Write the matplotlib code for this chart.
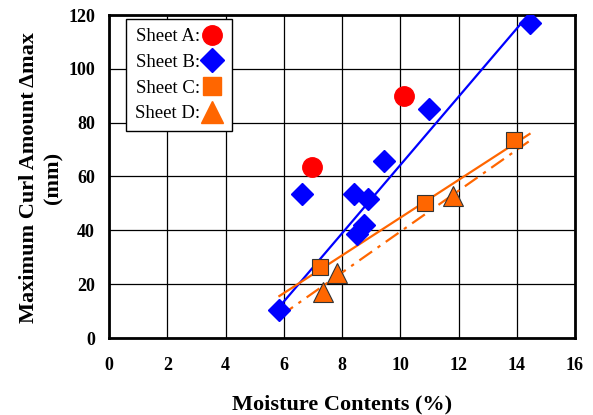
"""
Maximum curl amount vs moisture contents for four sheets
"""

import matplotlib.pyplot as plt
from matplotlib.lines import Line2D

plt.rcParams["font.family"] = ["Liberation Serif", "DejaVu Serif"]

# measured points
SHEET_A_X = [6.96, 10.14]
SHEET_A_Y = [63.7, 90.0]

SHEET_B_X = [5.82, 6.61, 8.40, 8.51, 8.77, 8.88, 9.45, 10.97, 14.44]
SHEET_B_Y = [10.4, 53.6, 53.4, 38.7, 42.0, 51.8, 65.9, 85.2, 117.2]

SHEET_C_X = [7.23, 10.86, 13.92]
SHEET_C_Y = [26.3, 50.1, 73.6]

SHEET_D_X = [7.36, 7.82, 11.80]
SHEET_D_Y = [17.2, 24.0, 52.6]

# trend lines (end points)
TREND_B_X = [5.85, 14.35]
TREND_B_Y = [11.6, 119.4]
TREND_C_X = [5.85, 14.44]
TREND_C_Y = [15.6, 75.8]
TREND_D_X = [5.88, 14.41]
TREND_D_Y = [8.2, 73.0]

X_TICKS = list(range(0, 17, 2))
Y_TICKS = list(range(0, 121, 20))

ORANGE = "#ff6600"
BLUE = "#0000ff"
RED = "#ff0000"

fig = plt.figure(figsize=(5.93, 4.15), dpi=100)
ax = fig.add_axes([109 / 593, 77 / 415, 466 / 593, 323 / 415])

# trend lines first
ax.plot(TREND_B_X, TREND_B_Y, color=BLUE, lw=1.6, zorder=3)
ax.plot(TREND_C_X, TREND_C_Y, color=ORANGE, lw=1.6, zorder=3)
ax.plot(TREND_D_X, TREND_D_Y, color=ORANGE, lw=1.6,
        ls=(0, (7, 3, 1.5, 3)), zorder=3)

# markers
ax.plot(SHEET_A_X, SHEET_A_Y, "o", color=RED, ms=14, mec=RED, zorder=4)
ax.plot(SHEET_B_X, SHEET_B_Y, "D", color=BLUE, ms=11, mec=BLUE, zorder=4)
ax.plot(SHEET_C_X, SHEET_C_Y, "s", color=ORANGE, ms=11, mec="#333333",
        mew=0.8, zorder=5)
ax.plot(SHEET_D_X, SHEET_D_Y, "^", color=ORANGE, ms=14, mec="#333333",
        mew=0.8, zorder=5)

ax.set_xlim(0, 16)
ax.set_ylim(0, 120)
ax.set_xticks(X_TICKS)
ax.set_yticks(Y_TICKS)
ax.grid(True, color="black", lw=0.9)
ax.set_axisbelow(True)
ax.tick_params(length=0, labelsize=13, pad=14)
ax.tick_params(axis="y", pad=10)
for lab in ax.get_xticklabels() + ax.get_yticklabels():
    lab.set_fontweight("bold")
for sp in ax.spines.values():
    sp.set_linewidth(2)
    sp.set_color("black")

ax.set_xlabel("Moisture Contents (%)", fontsize=16, fontweight="bold")
ax.xaxis.set_label_coords(0.5, -0.175)
fig.text(41 / 593, 1 - 178 / 415, "Maximum Curl Amount \u0394max\n(mm)",
         rotation=90, ha="center", va="center", multialignment="center",
         fontsize=16, fontweight="bold", linespacing=1.3)

# legend with markers on the right
handles = [
    Line2D([], [], ls="none", marker="o", color=RED, ms=14),
    Line2D([], [], ls="none", marker="D", color=BLUE, ms=12),
    Line2D([], [], ls="none", marker="s", color=ORANGE, ms=13),
    Line2D([], [], ls="none", marker="^", color=ORANGE, ms=16),
]
leg = ax.legend(
    handles,
    ["Sheet A:", "Sheet B:", "Sheet C:", "Sheet D:"],
    loc="upper left",
    bbox_to_anchor=(0.036, 0.988),
    markerfirst=False,
    fancybox=False,
    framealpha=1,
    edgecolor="black",
    fontsize=13.5,
    handlelength=1.1,
    handletextpad=0.1,
    labelspacing=0.45,
    borderpad=0.5,
    borderaxespad=0,
)
leg.get_frame().set_linewidth(1.0)
leg.set_zorder(6)

plt.savefig("out.png", dpi=100)
